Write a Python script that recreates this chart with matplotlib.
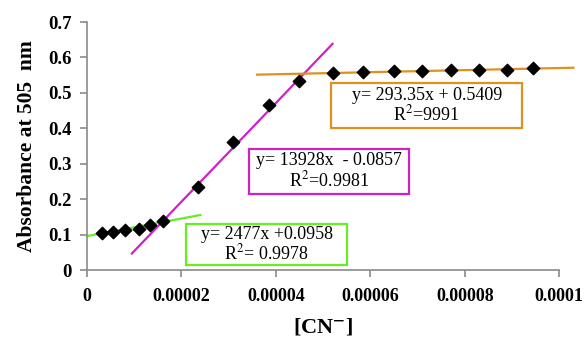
import numpy as np
import matplotlib.pyplot as plt
from matplotlib.patches import Rectangle

# concentração de CN- (M) e absorbância a 505 nm
conc = [3.2e-6, 5.5e-6, 8.0e-6, 1.1e-5, 1.33e-5, 1.6e-5, 2.35e-5, 3.1e-5, 3.85e-5,
        4.5e-5, 5.2e-5, 5.85e-5, 6.5e-5, 7.1e-5, 7.7e-5, 8.3e-5, 8.9e-5, 9.45e-5]
absorb = [0.105, 0.108, 0.112, 0.116, 0.127, 0.137, 0.235, 0.362, 0.467,
          0.533, 0.556, 0.558, 0.561, 0.562, 0.565, 0.565, 0.566, 0.569]

# retas de ajuste: (inclinação, intercepto, x inicial, x final)
fit_green = (2477, 0.0958, 0.0, 2.4e-5)
fit_magenta = (13928, -0.0857, 9.5e-6, 5.2e-5)
fit_orange = (293.35, 0.5409, 3.6e-5, 1.03e-4)

xticks = [0, 0.00002, 0.00004, 0.00006, 0.00008, 0.0001]
xtick_labels = ['0', '0.00002', '0.00004', '0.00006', '0.00008', '0.0001']
yticks = [0, 0.1, 0.2, 0.3, 0.4, 0.5, 0.6, 0.7]
ytick_labels = ['0', '0.1', '0.2', '0.3', '0.4', '0.5', '0.6', '0.7']

plt.rcParams['font.family'] = 'Liberation Serif'
plt.rcParams['mathtext.fontset'] = 'stix'

fig = plt.figure(figsize=(5.88, 3.42), dpi=100)
ax = fig.add_axes([0.148, 0.2105, 0.803, 0.725])

colors = {'green': '#66EE22', 'magenta': '#D020C8', 'orange': '#E0901E'}
for (m, b, x0, x1), c in [(fit_green, colors['green']),
                          (fit_magenta, colors['magenta']),
                          (fit_orange, colors['orange'])]:
    xs = np.array([x0, x1])
    ax.plot(xs, m * xs + b, color=c, lw=1.6, clip_on=False, zorder=2)

ax.scatter(conc, absorb, marker='D', s=40, color='black', zorder=3)

ax.set_xlim(0, 0.0001)
ax.set_ylim(0, 0.7)
ax.set_xticks(xticks)
ax.set_xticklabels(xtick_labels, fontsize=13, fontweight='bold')
ax.set_yticks(yticks)
ax.set_yticklabels(ytick_labels, fontsize=13.5, fontweight='bold')

for s in ['top', 'right']:
    ax.spines[s].set_visible(False)
for s in ['left', 'bottom']:
    ax.spines[s].set_color('#8a8a8a')
    ax.spines[s].set_linewidth(1.2)
ax.tick_params(axis='both', color='#8a8a8a', length=5, width=1.2)
ax.tick_params(axis='x', pad=8)
ax.tick_params(axis='y', pad=6)

ax.set_ylabel('Absorbance at 505  nm', fontsize=15.5, fontweight='bold', labelpad=8)
ax.set_xlabel(r'[CN$^{\mathbf{-}}$]', fontsize=16, fontweight='bold', labelpad=8)

# caixas com as equações: (texto, esquerda, base, largura, altura, cor)
caixas = [
    ('y= 293.35x + 0.5409\nR$^2$=9991', 5.17e-5, 0.401, 4.05e-5, 0.127, colors['orange']),
    ('y= 13928x  - 0.0857\nR$^2$=0.9981', 3.43e-5, 0.215, 3.39e-5, 0.127, colors['magenta']),
    ('y= 2477x +0.0958\nR$^2$= 0.9978', 2.10e-5, 0.014, 3.41e-5, 0.116, colors['green']),
]
for texto, x, y, w, h, c in caixas:
    ax.add_patch(Rectangle((x, y), w, h, fc='white', ec=c, lw=1.6,
                           zorder=4, clip_on=False))
    ax.text(x + w / 2, y + h / 2, texto, ha='center', va='center',
            fontsize=13, linespacing=1.05, zorder=5)

plt.savefig('out.png', dpi=100)
plt.close()
